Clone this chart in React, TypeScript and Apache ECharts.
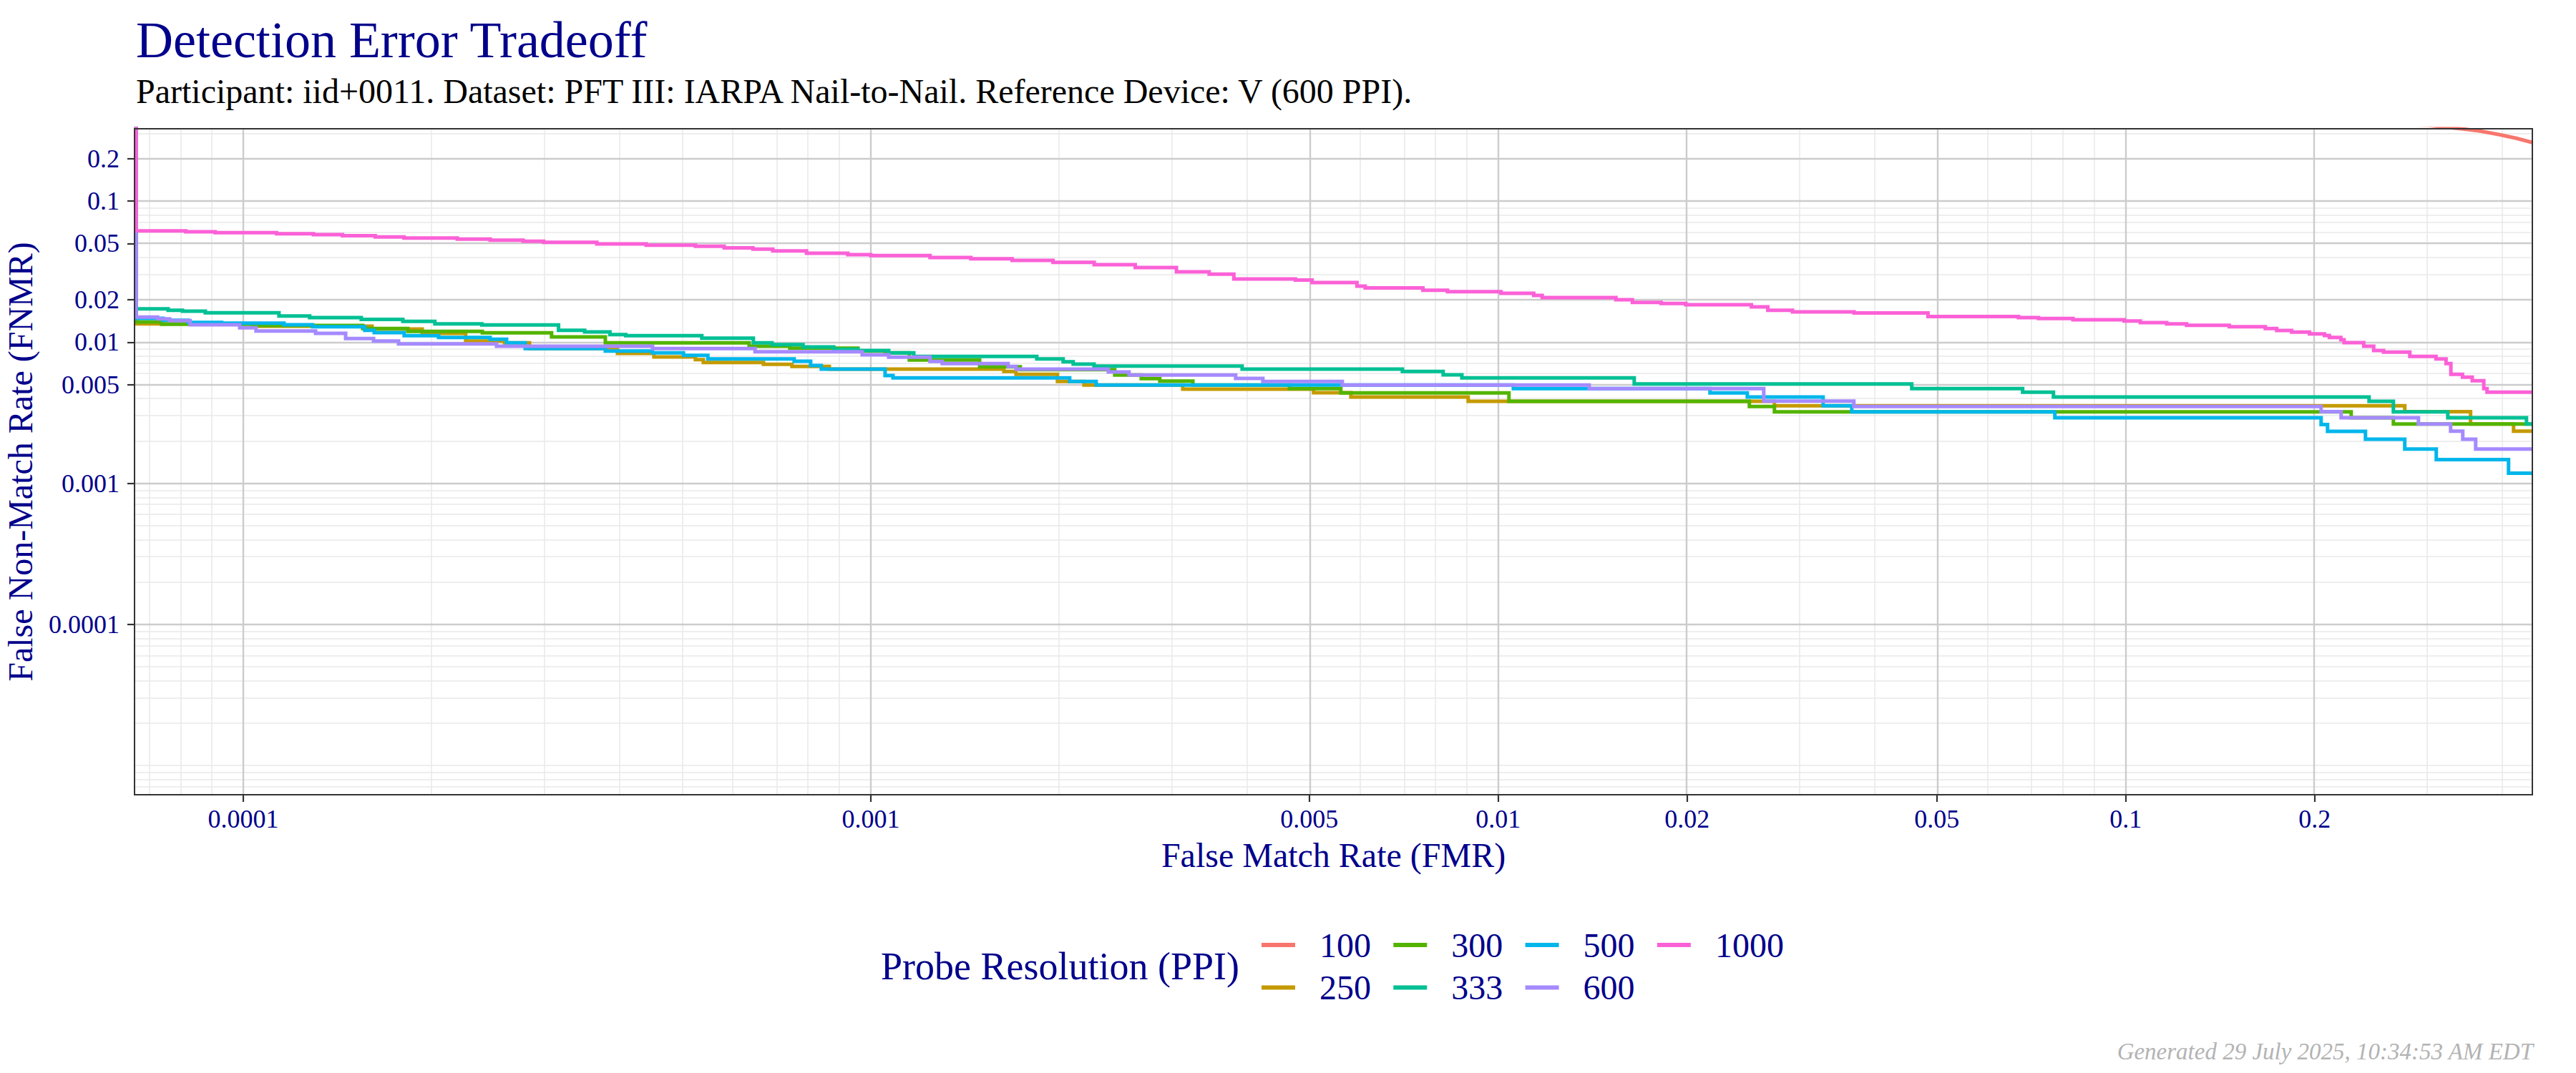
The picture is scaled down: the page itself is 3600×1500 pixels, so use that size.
import React, { useEffect, useRef } from "react";
import * as echarts from "echarts";

// ---------- data ----------
const TITLE = "Detection Error Tradeoff";
const SUBTITLE =
  "Participant: iid+0011. Dataset: PFT III: IARPA Nail-to-Nail. Reference Device: V (600 PPI).";
const X_TITLE = "False Match Rate (FMR)";
const Y_TITLE = "False Non-Match Rate (FNMR)";
const LEGEND_TITLE = "Probe Resolution (PPI)";
const FOOTER = "Generated 29 July 2025, 10:34:53 AM EDT";

const FMR_LIMITS = [6.71e-5, 0.4446];
const FNMR_LIMITS = [6.21e-6, 0.325];

const X_BREAKS = [0.0001, 0.001, 0.005, 0.01, 0.02, 0.05, 0.1, 0.2];
const X_BREAK_LABELS = ["0.0001", "0.001", "0.005", "0.01", "0.02", "0.05", "0.1", "0.2"];
const Y_BREAKS = [0.0001, 0.001, 0.005, 0.01, 0.02, 0.05, 0.1, 0.2];
const Y_BREAK_LABELS = ["0.0001", "0.001", "0.005", "0.01", "0.02", "0.05", "0.1", "0.2"];

const MINOR_MULTIPLIERS = [1, 2, 3, 4, 5, 6, 7, 8, 9];
const DECADES = [1e-6, 1e-5, 1e-4, 1e-3, 1e-2, 1e-1];

const RESOLUTIONS = ["100", "250", "300", "333", "500", "600", "1000"];
const COLORS = ["#F8766D", "#C49A00", "#53B400", "#00C094", "#00B6EB", "#A58AFF", "#FB61D7"];
const LEGEND_COLUMNS = [["100", "250"], ["300", "333"], ["500", "600"], ["1000"]];

// [FMR, FNMR] points; each level starts at the given FMR (step at end)
const PPI_100 = [
  [6.75e-5, 1], [0.3, 0.345], [0.3427, 0.3249], [0.3675, 0.3127], [0.3941, 0.295],
  [0.4192, 0.2784], [0.4446, 0.2595],
];
const PPI_250 = [
  [6.75e-5, 1], [6.75e-5, 0.01348], [1.032e-4, 0.01297], [1.604e-4, 0.01238], [1.928e-4, 0.01154],
  [2.262e-4, 0.01019], [2.608e-4, 0.00988], [2.859e-4, 0.009], [3.948e-4, 0.00833], [4.513e-4, 0.00785],
  [5.255e-4, 0.00752], [5.41e-4, 0.00718], [6.745e-4, 0.00696], [7.49e-4, 0.00672], [8.59e-4, 0.00644],
  [1.63e-3, 0.0062], [1.704e-3, 0.00591], [1.984e-3, 0.00526], [2.187e-3, 0.00497], [3.142e-3, 0.00465],
  [5.078e-3, 0.00438], [5.823e-3, 0.00409], [8.955e-3, 0.00381], [2.755e-2, 0.00354], [0.2784, 0.00322],
  [0.3544, 0.00263], [0.415, 0.00234], [0.4446, 0.00234],
];
const PPI_300 = [
  [6.75e-5, 1], [6.75e-5, 0.01391], [7.41e-5, 0.01339], [1.032e-4, 0.01313], [1.55e-4, 0.01248],
  [1.829e-4, 0.01191], [2.404e-4, 0.01164], [3.1e-4, 0.01089], [3.776e-4, 0.00988], [6.4e-4, 0.00936],
  [7.43e-4, 0.00907], [9.54e-4, 0.00865], [1.054e-3, 0.0084], [1.152e-3, 0.00747], [1.491e-3, 0.00669],
  [1.731e-3, 0.00639], [2.448e-3, 0.00585], [2.698e-3, 0.00551], [2.888e-3, 0.0053], [3.261e-3, 0.00497],
  [4.647e-3, 0.00469], [5.612e-3, 0.00437], [1.04e-2, 0.00381], [2.513e-2, 0.0035], [2.755e-2, 0.00321],
  [0.2287, 0.00291], [0.267, 0.00263], [0.4446, 0.00263],
];
const PPI_333 = [
  [6.75e-5, 1], [6.75e-5, 0.01722], [7.59e-5, 0.0168], [8.0e-5, 0.01658], [8.7e-5, 0.01614],
  [1.14e-4, 0.01533], [1.276e-4, 0.01492], [1.542e-4, 0.0145], [1.796e-4, 0.01403], [2.02e-4, 0.01348],
  [2.4e-4, 0.01323], [3.18e-4, 0.01214], [3.5e-4, 0.01182], [3.84e-4, 0.01132], [4.07e-4, 0.01111],
  [5.38e-4, 0.01068], [6.5e-4, 0.00988], [6.96e-4, 0.00961], [7.8e-4, 0.00925], [8.73e-4, 0.0089],
  [9.54e-4, 0.00872], [1.068e-3, 0.0084], [1.171e-3, 0.00792], [1.839e-3, 0.00761], [2.026e-3, 0.00726],
  [2.102e-3, 0.00699], [2.269e-3, 0.00677], [3.907e-3, 0.00644], [7.035e-3, 0.0062], [8.17e-3, 0.00587],
  [8.75e-3, 0.00558], [1.647e-2, 0.00506], [4.56e-2, 0.00469], [6.85e-2, 0.00442], [7.67e-2, 0.00409],
  [0.2442, 0.00381], [0.267, 0.00321], [0.326, 0.00291], [0.4351, 0.00263], [0.4446, 0.00263],
];
const PPI_500 = [
  [6.75e-5, 1], [6.75e-5, 0.01475], [7.45e-5, 0.01429], [8.17e-5, 0.0138], [9.24e-5, 0.01364],
  [1.161e-4, 0.01328], [1.29e-4, 0.01287], [1.562e-4, 0.01214], [1.617e-4, 0.01168], [1.805e-4, 0.01111],
  [2.048e-4, 0.0108], [2.474e-4, 0.01048], [2.628e-4, 0.00988], [2.814e-4, 0.009], [3.776e-4, 0.00865],
  [4.49e-4, 0.0084], [5.03e-4, 0.00807], [5.5e-4, 0.00761], [7.55e-4, 0.00732], [8.02e-4, 0.00683],
  [8.34e-4, 0.00644], [1.054e-3, 0.0058], [1.085e-3, 0.00558], [2.075e-3, 0.00526], [2.287e-3, 0.00497],
  [1.057e-2, 0.00469], [2.175e-2, 0.00437], [2.494e-2, 0.00409], [3.294e-2, 0.00354], [3.659e-2, 0.00321],
  [7.71e-2, 0.00291], [0.2048, 0.00261], [0.2097, 0.00233], [0.241, 0.00205], [0.2784, 0.00175],
  [0.3125, 0.00147], [0.4074, 0.00118], [0.4446, 0.00118],
];
const PPI_600 = [
  [6.75e-5, 1], [6.75e-5, 0.01504], [7.3e-5, 0.01463], [7.63e-5, 0.01419], [8.23e-5, 0.01328],
  [9.87e-5, 0.01263], [1.048e-4, 0.012], [1.304e-4, 0.01154], [1.456e-4, 0.0106], [1.613e-4, 0.01019],
  [1.768e-4, 0.00972], [2.533e-4, 0.00936], [4.49e-4, 0.009], [6.54e-4, 0.00855], [9.69e-4, 0.00813],
  [1.068e-3, 0.00783], [1.243e-3, 0.0073], [1.3e-3, 0.00705], [1.655e-3, 0.00672], [1.704e-3, 0.00644],
  [2.391e-3, 0.00615], [2.58e-3, 0.00585], [3.815e-3, 0.00553], [4.216e-3, 0.00526], [5.642e-3, 0.00497],
  [1.396e-2, 0.00469], [2.649e-2, 0.00382], [3.687e-2, 0.0035], [0.2048, 0.00322], [0.2204, 0.00291],
  [0.2927, 0.00263], [0.3294, 0.00234], [0.3444, 0.00205], [0.3611, 0.00175], [0.4446, 0.00175],
];
const PPI_1000 = [
  [6.75e-5, 1], [6.75e-5, 0.0615], [8.1e-5, 0.0605], [9.02e-5, 0.0596], [1.13e-4, 0.0587],
  [1.294e-4, 0.0578], [1.439e-4, 0.0567], [1.623e-4, 0.0556], [1.804e-4, 0.0547], [2.193e-4, 0.0537],
  [2.475e-4, 0.0528], [2.792e-4, 0.0518], [3.01e-4, 0.051], [3.66e-4, 0.0497], [4.386e-4, 0.0487],
  [5.257e-4, 0.0478], [5.84e-4, 0.0465], [6.49e-4, 0.0456], [6.98e-4, 0.0443], [7.9e-4, 0.0427],
  [9.19e-4, 0.0417], [1.0e-3, 0.0411], [1.243e-3, 0.0398], [1.444e-3, 0.039], [1.68e-3, 0.038],
  [1.952e-3, 0.0368], [2.27e-3, 0.0354], [2.639e-3, 0.0338], [3.07e-3, 0.0315], [3.462e-3, 0.0303],
  [3.79e-3, 0.028], [4.75e-3, 0.0275], [5.05e-3, 0.0264], [5.955e-3, 0.0249], [6.137e-3, 0.0242],
  [7.586e-3, 0.0233], [8.3e-3, 0.0228], [1.01e-2, 0.0222], [1.139e-2, 0.0214], [1.175e-2, 0.0207],
  [1.54e-2, 0.02], [1.636e-2, 0.0191], [1.818e-2, 0.0188], [1.99e-2, 0.0184], [2.532e-2, 0.0178],
  [2.689e-2, 0.0168], [2.944e-2, 0.0164], [3.69e-2, 0.0161], [4.84e-2, 0.0152], [6.745e-2, 0.0149],
  [7.26e-2, 0.0147], [8.24e-2, 0.0144], [9.94e-2, 0.0141], [0.1055, 0.01375], [0.1162, 0.01348],
  [0.125, 0.01317], [0.1462, 0.01286], [0.1669, 0.01248], [0.174, 0.01209], [0.1838, 0.01178],
  [0.1963, 0.01145], [0.2073, 0.01115], [0.2111, 0.0108], [0.2202, 0.0104], [0.2228, 0.00992],
  [0.2395, 0.00936], [0.2484, 0.00872], [0.2575, 0.00849], [0.2836, 0.00792], [0.3122, 0.00761],
  [0.3239, 0.00705], [0.3297, 0.00592], [0.3441, 0.00565], [0.3566, 0.00532], [0.372, 0.00469],
  [0.3765, 0.00442], [0.4446, 0.00442],
];
const SERIES_DATA = [PPI_100, PPI_250, PPI_300, PPI_333, PPI_500, PPI_600, PPI_1000];

// ---------- styles ----------
const FONT = "'Liberation Serif', 'DejaVu Serif', serif";
const NAVY = "#00008B";
const PLOT = { left: 188, top: 180, width: 3351, height: 931 };

const lg = (v: number) => Math.log10(v);

function nearestLabel(v: number, breaks: number[], labels: string[]) {
  let best = 0;
  let bd = Infinity;
  breaks.forEach((b, i) => {
    const d = Math.abs(lg(b) - v);
    if (d < bd) {
      bd = d;
      best = i;
    }
  });
  return labels[best];
}

function minorValues(limits: number[]) {
  const out: number[] = [];
  DECADES.forEach((d) =>
    MINOR_MULTIPLIERS.forEach((m) => {
      const v = d * m;
      if (v > limits[0] && v < limits[1]) out.push(v);
    })
  );
  return out;
}

export default function App() {
  const ref = useRef<HTMLDivElement>(null);

  useEffect(() => {
    if (!ref.current) return;
    const chart = echarts.init(ref.current, undefined, { renderer: "svg" });

    const minorX = minorValues(FMR_LIMITS);
    const minorY = minorValues(FNMR_LIMITS);

    const gridSeries = [
      {
        type: "line",
        name: "__minor",
        data: [],
        silent: true,
        z: 1,
        markLine: {
          silent: true,
          z: 1,
          animation: false,
          symbol: ["none", "none"],
          label: { show: false },
          emphasis: { disabled: true },
          lineStyle: { color: "#E8E8E8", width: 1.5, type: "solid" },
          data: [
            ...minorX.map((v) => ({ xAxis: lg(v) })),
            ...minorY.map((v) => ({ yAxis: lg(v) })),
          ],
        },
      },
      {
        type: "line",
        name: "__major",
        data: [],
        silent: true,
        z: 1,
        markLine: {
          silent: true,
          z: 1,
          animation: false,
          symbol: ["none", "none"],
          label: { show: false },
          emphasis: { disabled: true },
          lineStyle: { color: "#CCCCCC", width: 2.4, type: "solid" },
          data: [
            ...X_BREAKS.map((v) => ({ xAxis: lg(v) })),
            ...Y_BREAKS.map((v) => ({ yAxis: lg(v) })),
          ],
        },
      },
    ];

    const curveSeries = RESOLUTIONS.map((name, i) => ({
      type: "line",
      name,
      data: SERIES_DATA[i].map((p) => [lg(p[0]), lg(p[1])]),
      step: name === "100" ? false : "end",
      showSymbol: false,
      symbol: "none",
      clip: true,
      z: 10,
      color: COLORS[i],
      lineStyle: { color: COLORS[i], width: 5, cap: "butt", join: "miter" },
      emphasis: { disabled: true },
    }));

    const option: any = {
      animation: false,
      backgroundColor: "#FFFFFF",
      textStyle: { fontFamily: FONT },
      grid: {
        left: PLOT.left,
        top: PLOT.top,
        width: PLOT.width,
        height: PLOT.height,
        show: true,
        borderColor: "#333333",
        borderWidth: 2,
        backgroundColor: "transparent",
        containLabel: false,
        outerBoundsMode: "none",
        z: 20,
      },
      xAxis: {
        type: "value",
        min: lg(FMR_LIMITS[0]),
        max: lg(FMR_LIMITS[1]),
        axisLine: { show: false },
        splitLine: { show: false },
        axisTick: {
          show: true,
          length: 10,
          customValues: X_BREAKS.map(lg),
          lineStyle: { color: "#333333", width: 2.2 },
        },
        axisLabel: {
          show: true,
          customValues: X_BREAKS.map(lg),
          formatter: (v: number) => nearestLabel(v, X_BREAKS, X_BREAK_LABELS),
          color: NAVY,
          fontSize: 36,
          fontFamily: FONT,
          margin: 16,
          hideOverlap: false,
        },
        name: X_TITLE,
        nameLocation: "middle",
        nameGap: 60,
        nameTextStyle: { color: NAVY, fontSize: 48, fontFamily: FONT },
      },
      yAxis: {
        type: "value",
        min: lg(FNMR_LIMITS[0]),
        max: lg(FNMR_LIMITS[1]),
        axisLine: { show: false },
        splitLine: { show: false },
        axisTick: {
          show: true,
          length: 10,
          customValues: Y_BREAKS.map(lg),
          lineStyle: { color: "#333333", width: 2.2 },
        },
        axisLabel: {
          show: true,
          customValues: Y_BREAKS.map(lg),
          formatter: (v: number) => nearestLabel(v, Y_BREAKS, Y_BREAK_LABELS),
          color: NAVY,
          fontSize: 36,
          fontFamily: FONT,
          margin: 21,
          hideOverlap: false,
        },
        name: Y_TITLE,
        nameLocation: "middle",
        nameGap: 136,
        nameRotate: 90,
        nameTextStyle: { color: NAVY, fontSize: 48, fontFamily: FONT },
      },
      legend: LEGEND_COLUMNS.map((col, i) => ({
        data: col,
        orient: "vertical",
        left: 1763 + i * 184.3,
        top: 1297,
        itemGap: 11.5,
        itemWidth: 47,
        itemHeight: 6,
        icon: "rect",
        padding: 0,
        selectedMode: false,
        textStyle: {
          color: NAVY,
          fontSize: 48,
          fontFamily: FONT,
          padding: [0, 0, 0, 29],
        },
      })),
      graphic: [
        {
          type: "text",
          x: 190,
          y: 56,
          style: {
            text: TITLE,
            fill: NAVY,
            font: `72px ${FONT}`,
            align: "left",
            verticalAlign: "middle",
          },
        },
        {
          type: "text",
          x: 190,
          y: 127,
          style: {
            text: SUBTITLE,
            fill: "#000000",
            font: `48px ${FONT}`,
            align: "left",
            verticalAlign: "middle",
          },
        },
        {
          type: "text",
          x: 1732,
          y: 1351,
          style: {
            text: LEGEND_TITLE,
            fill: NAVY,
            font: `54px ${FONT}`,
            align: "right",
            verticalAlign: "middle",
          },
        },
        {
          type: "text",
          x: 3540,
          y: 1470,
          style: {
            text: FOOTER,
            fill: "#B3B3B3",
            font: `italic 33px ${FONT}`,
            align: "right",
            verticalAlign: "middle",
          },
        },
      ],
      series: [...gridSeries, ...curveSeries],
    };

    chart.setOption(option);
    return () => chart.dispose();
  }, []);

  return (
    <div
      ref={ref}
      style={{
        position: "absolute",
        left: 0,
        top: 0,
        width: 3600,
        height: 1500,
        background: "#FFFFFF",
      }}
    />
  );
}
